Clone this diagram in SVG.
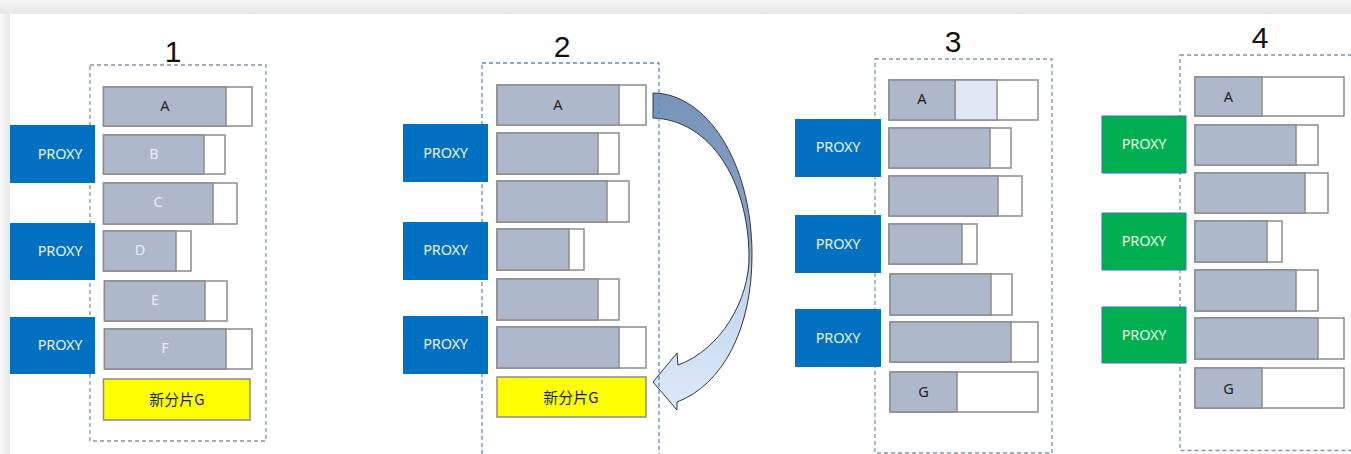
<svg xmlns="http://www.w3.org/2000/svg" width="1351" height="454" viewBox="0 0 1351 454">
<style>
.bw{fill:#ffffff;stroke:#8c8c8c;stroke-width:1.5}
.bg{fill:#adb9ca;stroke:#8c8c8c;stroke-width:1.5}
.bl{fill:#dde8f4;stroke:#8c8c8c;stroke-width:1.5}
.yel{fill:#ffff00;stroke:#8c8c8c;stroke-width:1.5}
.px{fill:#0070c0}
.pxg{fill:#00b050;stroke:#2e75b6;stroke-width:1}
.dash{fill:none;stroke:#7f95ad;stroke-width:1.3;stroke-dasharray:4 3}
.dash2{fill:none;stroke:#5a8cc6;stroke-width:1.3;stroke-dasharray:4 3}
.t{font-family:"Noto Sans","Noto Sans CJK SC",sans-serif;font-size:14.5px;text-anchor:middle}
.dk{fill:#1f1f1f}
.lt{fill:#e9eef6}
.pt{fill:#eaf1f8;letter-spacing:-0.2px}
.ptg{fill:#e6f5e6;letter-spacing:-0.2px}
.cjk{font-family:"Noto Sans CJK SC","Noto Sans",sans-serif;font-size:15px;text-anchor:middle;fill:#1f1f1f}
.num{font-family:"Liberation Sans",sans-serif;font-size:30px;text-anchor:middle;fill:#111}
</style>
<defs>
<linearGradient id="topsh" x1="0" y1="0" x2="0" y2="1">
<stop offset="0" stop-color="#f7f7f7"/><stop offset="1" stop-color="#e6e6e6"/>
</linearGradient>
<linearGradient id="leftsh" x1="0" y1="0" x2="1" y2="0">
<stop offset="0" stop-color="#fafafa"/><stop offset="1" stop-color="#e8e8e8"/>
</linearGradient>
<linearGradient id="arrowfill" x1="0" y1="93" x2="0" y2="410" gradientUnits="userSpaceOnUse">
<stop offset="0" stop-color="#7894bb"/>
<stop offset="0.45" stop-color="#86a2c8"/>
<stop offset="0.6" stop-color="#c2d5ee"/>
<stop offset="1" stop-color="#dde9f8"/>
</linearGradient>
</defs>
<rect x="0" y="0" width="1351" height="454" fill="#ffffff"/>
<rect x="0" y="0" width="1351" height="14" fill="url(#topsh)"/>
<rect x="0" y="14" width="10" height="440" fill="url(#leftsh)"/>

<g id="connectors">
<path d="M653,93 C705,93 752,160 752,255 C752,330 722,385 677,402 L677,410 L653,382 L677,353 L678,365 C720,350 750,300 749,255 C748,180 710,120 653,118 Z" fill="url(#arrowfill)" stroke="#2f3640" stroke-width="1"/>
</g>

<g id="panel1">
<text class="num" x="173" y="62">1</text>
<rect class="dash" x="90" y="65" width="176" height="376"/>
<g id="p1-A"><rect class="bw" x="103.5" y="87" width="148.5" height="39"/><rect class="bg" x="103.5" y="87" width="122.5" height="39"/><text class="t dk" x="165" y="110.5">A</text></g>
<g id="p1-B"><rect class="bw" x="103.5" y="135" width="121.5" height="39"/><rect class="bg" x="103.5" y="135" width="100.5" height="39"/><text class="t lt" x="154" y="159">B</text></g>
<g id="p1-C"><rect class="bw" x="103.5" y="183" width="133.5" height="41"/><rect class="bg" x="103.5" y="183" width="109.5" height="41"/><text class="t lt" x="158" y="207">C</text></g>
<g id="p1-D"><rect class="bw" x="103.5" y="231" width="87.5" height="40"/><rect class="bg" x="103.5" y="231" width="72.5" height="40"/><text class="t lt" x="140" y="255">D</text></g>
<g id="p1-E"><rect class="bw" x="104.5" y="281" width="122.5" height="40"/><rect class="bg" x="104.5" y="281" width="100.5" height="40"/><text class="t lt" x="155" y="305">E</text></g>
<g id="p1-F"><rect class="bw" x="104.5" y="329" width="147.5" height="40"/><rect class="bg" x="104.5" y="329" width="121.5" height="40"/><text class="t lt" x="165" y="353">F</text></g>
<g id="p1-G"><rect class="yel" x="103.5" y="379" width="146.5" height="41"/><text class="cjk" x="177" y="405">新分片G</text></g>
<g id="p1-proxy1"><rect class="px" x="10" y="125" width="85" height="58"/><text class="t pt" x="60" y="158.5">PROXY</text></g>
<g id="p1-proxy2"><rect class="px" x="10" y="223" width="85" height="57"/><text class="t pt" x="60" y="255.5">PROXY</text></g>
<g id="p1-proxy3"><rect class="px" x="10" y="317" width="85" height="57"/><text class="t pt" x="60" y="350">PROXY</text></g>
</g>

<g id="panel2">
<text class="num" x="562" y="57">2</text>
<rect class="dash2" x="482" y="63" width="177" height="400"/>
<g id="p2-A"><rect class="bw" x="497" y="85" width="149" height="40"/><rect class="bg" x="497" y="85" width="122" height="40"/><text class="t dk" x="558" y="110">A</text></g>
<g id="p2-B"><rect class="bw" x="497" y="133" width="122" height="41"/><rect class="bg" x="497" y="133" width="101" height="41"/></g>
<g id="p2-C"><rect class="bw" x="497" y="181" width="132" height="41"/><rect class="bg" x="497" y="181" width="110" height="41"/></g>
<g id="p2-D"><rect class="bw" x="497" y="229" width="87" height="41"/><rect class="bg" x="497" y="229" width="72" height="41"/></g>
<g id="p2-E"><rect class="bw" x="497" y="279" width="122" height="41"/><rect class="bg" x="497" y="279" width="101" height="41"/></g>
<g id="p2-F"><rect class="bw" x="497" y="327" width="149" height="41"/><rect class="bg" x="497" y="327" width="122" height="41"/></g>
<g id="p2-G"><rect class="yel" x="497" y="377" width="149" height="40"/><text class="cjk" x="571" y="402.5">新分片G</text></g>
<g id="p2-proxy1"><rect class="px" x="403" y="124" width="85" height="58"/><text class="t pt" x="445.5" y="157.5">PROXY</text></g>
<g id="p2-proxy2"><rect class="px" x="403" y="222" width="85" height="58"/><text class="t pt" x="445.5" y="255">PROXY</text></g>
<g id="p2-proxy3"><rect class="px" x="403" y="316" width="85" height="58"/><text class="t pt" x="445.5" y="348.5">PROXY</text></g>
</g>

<g id="panel3">
<text class="num" x="953" y="52">3</text>
<rect class="dash" x="875" y="59" width="177" height="394"/>
<g id="p3-A"><rect class="bw" x="889" y="80" width="149" height="40"/><rect class="bl" x="955" y="80" width="42" height="40"/><rect class="bg" x="889" y="80" width="66" height="40"/><text class="t dk" x="922" y="103.5">A</text></g>
<g id="p3-B"><rect class="bw" x="889" y="128" width="122" height="40"/><rect class="bg" x="889" y="128" width="101" height="40"/></g>
<g id="p3-C"><rect class="bw" x="889" y="176" width="133" height="40"/><rect class="bg" x="889" y="176" width="109" height="40"/></g>
<g id="p3-D"><rect class="bw" x="889" y="224" width="88" height="40"/><rect class="bg" x="889" y="224" width="73" height="40"/></g>
<g id="p3-E"><rect class="bw" x="890" y="274" width="122" height="41"/><rect class="bg" x="890" y="274" width="101" height="41"/></g>
<g id="p3-F"><rect class="bw" x="890" y="322" width="148" height="40"/><rect class="bg" x="890" y="322" width="121" height="40"/></g>
<g id="p3-G"><rect class="bw" x="890" y="372" width="148" height="40"/><rect class="bg" x="890" y="372" width="67" height="40"/><text class="t dk" x="923.5" y="397">G</text></g>
<g id="p3-proxy1"><rect class="px" x="795" y="119" width="86" height="58"/><text class="t pt" x="838" y="152">PROXY</text></g>
<g id="p3-proxy2"><rect class="px" x="795" y="215" width="86" height="58"/><text class="t pt" x="838" y="249">PROXY</text></g>
<g id="p3-proxy3"><rect class="px" x="795" y="309" width="86" height="58"/><text class="t pt" x="838" y="343">PROXY</text></g>
</g>

<g id="panel4">
<text class="num" x="1260" y="48">4</text>
<rect class="dash" x="1180" y="55" width="200" height="395.5"/>
<g id="p4-A"><rect class="bw" x="1195" y="77" width="149" height="39"/><rect class="bg" x="1195" y="77" width="67" height="39"/><text class="t dk" x="1228.5" y="101.5">A</text></g>
<g id="p4-B"><rect class="bw" x="1195" y="125" width="123" height="40"/><rect class="bg" x="1195" y="125" width="101" height="40"/></g>
<g id="p4-C"><rect class="bw" x="1195" y="173" width="133" height="40"/><rect class="bg" x="1195" y="173" width="110" height="40"/></g>
<g id="p4-D"><rect class="bw" x="1195" y="221" width="87" height="41"/><rect class="bg" x="1195" y="221" width="72" height="41"/></g>
<g id="p4-E"><rect class="bw" x="1195" y="270" width="123" height="41"/><rect class="bg" x="1195" y="270" width="101" height="41"/></g>
<g id="p4-F"><rect class="bw" x="1195" y="318" width="149" height="41"/><rect class="bg" x="1195" y="318" width="123" height="41"/></g>
<g id="p4-G"><rect class="bw" x="1195" y="368" width="149" height="40"/><rect class="bg" x="1195" y="368" width="67" height="40"/><text class="t dk" x="1228.5" y="393.5">G</text></g>
<g id="p4-proxy1"><rect class="pxg" x="1102" y="116" width="84" height="57"/><text class="t ptg" x="1144" y="149">PROXY</text></g>
<g id="p4-proxy2"><rect class="pxg" x="1102" y="213" width="84" height="57"/><text class="t ptg" x="1144" y="246">PROXY</text></g>
<g id="p4-proxy3"><rect class="pxg" x="1102" y="307" width="84" height="56"/><text class="t ptg" x="1144" y="340">PROXY</text></g>
</g>
</svg>
